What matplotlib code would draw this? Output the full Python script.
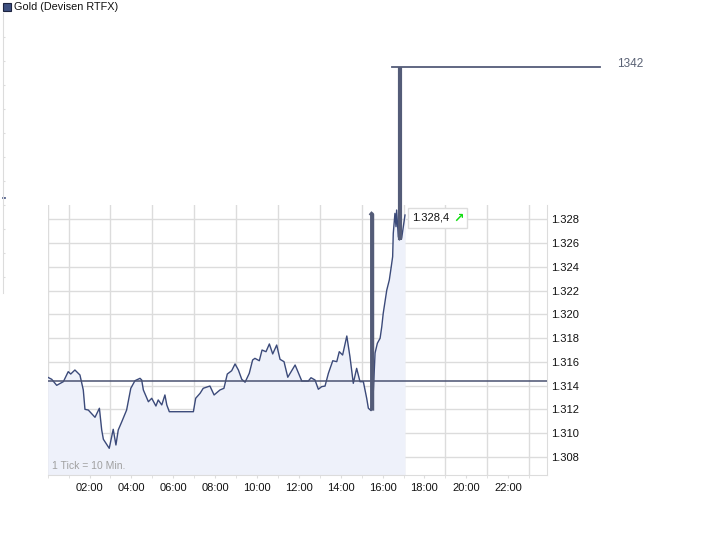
import numpy as np
import matplotlib
matplotlib.use("Agg")
import matplotlib.pyplot as plt
from matplotlib.patches import Rectangle
from matplotlib.offsetbox import TextArea, HPacker, AnnotationBbox

plt.rcParams['font.family'] = ['Liberation Sans', 'DejaVu Sans']

# intraday gold quote, hours since midnight
times = [0.00, 0.19, 0.43, 0.75, 0.98, 1.10, 1.30, 1.54, 1.70, 1.78, 1.94, 2.26, 2.47, 2.58,
         2.66, 2.94, 3.13, 3.26, 3.37, 3.54, 3.77, 3.97, 4.17, 4.41, 4.49, 4.57, 4.81, 4.97,
         5.17, 5.28, 5.45, 5.60, 5.69, 5.81, 6.96, 7.07, 7.28, 7.43, 7.75, 7.95, 8.23, 8.42,
         8.58, 8.79, 8.95, 9.11, 9.27, 9.43, 9.63, 9.79, 9.90, 10.11, 10.24, 10.43, 10.59,
         10.75, 10.94, 11.10, 11.29, 11.47, 11.82, 12.14, 12.45, 12.58, 12.77, 12.93, 13.09,
         13.25, 13.41, 13.62, 13.81, 13.93, 14.09, 14.29, 14.44, 14.60, 14.76, 14.92, 15.08,
         15.24, 15.32, 15.45, 15.56, 15.64, 15.75, 15.88, 15.96, 16.03, 16.20, 16.32, 16.39,
         16.48, 16.51, 16.59, 16.64, 16.67, 16.75, 16.80, 16.91, 16.99, 17.07]
prices = [1.31471, 1.31454, 1.31403, 1.31434, 1.31518, 1.31498, 1.31532, 1.31490, 1.31364,
          1.31201, 1.31195, 1.31134, 1.31210, 1.31027, 1.30949, 1.30873, 1.31033, 1.30901,
          1.31027, 1.31097, 1.31195, 1.31378, 1.31442, 1.31462, 1.31448, 1.31364, 1.31265,
          1.31294, 1.31229, 1.31280, 1.31238, 1.31322, 1.31238, 1.31181, 1.31181, 1.31294,
          1.31336, 1.31378, 1.31397, 1.31322, 1.31364, 1.31378, 1.31498, 1.31526, 1.31583,
          1.31532, 1.31454, 1.31429, 1.31504, 1.31616, 1.31630, 1.31610, 1.31700, 1.31686,
          1.31751, 1.31667, 1.31742, 1.31622, 1.31602, 1.31471, 1.31574, 1.31439, 1.31439,
          1.31467, 1.31448, 1.31370, 1.31392, 1.31397, 1.31504, 1.31610, 1.31602, 1.31686,
          1.31658, 1.31818, 1.31644, 1.31420, 1.31546, 1.31434, 1.31434, 1.31294, 1.31210,
          1.31190, 1.31364, 1.31675, 1.31757, 1.31799, 1.31896, 1.32009, 1.32205, 1.32289,
          1.32373, 1.32485, 1.32682, 1.32850, 1.32738, 1.32878, 1.32654, 1.32626, 1.32640,
          1.32738, 1.32836]

prev_close = 1.31442
last_label = "1.328,4"

# second (thick) series drawn over the quote
spike1_t = [15.40, 15.50, 15.50]
spike1_v = [1.32855, 1.32840, 1.31190]
spike2_t = [16.83, 16.83]
spike2_v = [1.32626, 1.34080]
level_t = [16.45, 26.40]
level_v = 1.34080
level_label = "1342"

yticks = [1.308, 1.310, 1.312, 1.314, 1.316, 1.318, 1.320, 1.322, 1.324, 1.326, 1.328]
xticks = [2, 4, 6, 8, 10, 12, 14, 16, 18, 20, 22]
xlabels = ["%02d:00" % h for h in xticks]

W, H = 726, 557
fig = plt.figure(figsize=(W / 100, H / 100), dpi=100)
ax = fig.add_axes([47.7 / W, (H - 475) / H, 499 / W, 270 / H])

line_c = '#3b4a7a'
grid_c = '#dcdcdc'

ax.fill_between(times, prices, 1.30, color='#eef1fa', lw=0, zorder=1)
ax.plot(times, prices, color=line_c, lw=1.0, zorder=3)
ax.axhline(prev_close, color='#4a5272', lw=1.1, zorder=4)

ax.plot(spike1_t, spike1_v, color='#545c78', lw=3, solid_capstyle='butt', zorder=5)
ax.plot(spike2_t, spike2_v, color='#545c78', lw=3, solid_capstyle='butt', zorder=5,
        clip_on=False)
ax.plot(level_t, [level_v, level_v], color='#545c78', lw=1.3, zorder=5, clip_on=False)
ax.annotate(level_label, xy=(level_t[-1], level_v), xytext=(12, 2),
            textcoords='offset points', ha='left', va='center', fontsize=8.5,
            color='#5a6275', annotation_clip=False)

ax.set_xlim(0, 23.84)
ax.set_ylim(1.306485, 1.329203)

ax.set_xticks(xticks)
ax.set_xticklabels(xlabels)
ax.set_xticks(np.arange(0, 24), minor=True)
ax.xaxis.grid(True, which='minor', color=grid_c, lw=1)
ax.set_yticks(yticks)
ax.set_yticklabels(["%.3f" % v for v in yticks])
ax.yaxis.grid(True, color=grid_c, lw=1)
ax.set_axisbelow(True)
ax.yaxis.tick_right()
ax.tick_params(axis='y', length=0, pad=3, labelsize=8, labelcolor='#111111')
ax.tick_params(axis='x', which='major', length=2, color=grid_c, pad=4, labelsize=8,
               labelcolor='#111111')
ax.tick_params(axis='x', which='minor', length=2, color=grid_c)
for s in ['top', 'left']:
    ax.spines[s].set_visible(False)
ax.spines['right'].set_color(grid_c)
ax.spines['bottom'].set_color(grid_c)

ax.text(0.008, 0.015, "1 Tick = 10 Min.", transform=ax.transAxes, fontsize=7.5,
        color='#a0a0a0', ha='left', va='bottom')

# last price box with green arrow
box = HPacker(children=[TextArea(last_label, textprops=dict(fontsize=8, color='#111111')),
                        TextArea("\u2197", textprops=dict(fontsize=9, color='#11dd11',
                                                          family='DejaVu Sans',
                                                          weight='bold'))],
              align='center', pad=0, sep=3)
ab = AnnotationBbox(box, (times[-1], prices[-1]), xybox=(5, -2), xycoords='data',
                    boxcoords='offset points', box_alignment=(0, 0.5), frameon=True,
                    pad=0.25, zorder=6)
ab.patch.set_edgecolor('#dddddd')
ab.patch.set_facecolor('white')
ab.patch.set_boxstyle('square', pad=0.25)
ax.add_artist(ab)

# faint secondary scale on the far left
axl = fig.add_axes([2.7 / W, (H - 293) / H, 5 / W, 280 / H])
axl.set_xlim(0, 1)
axl.set_ylim(0, 280)
for s in ['top', 'right', 'bottom']:
    axl.spines[s].set_visible(False)
axl.spines['left'].set_color(grid_c)
axl.set_xticks([])
axl.set_yticks(np.arange(16, 280, 24))
axl.set_yticklabels([])
axl.tick_params(axis='y', direction='in', length=1.5, color=grid_c)
axl.patch.set_visible(False)
axl.plot([0, 0.5], [95, 95], color='#3b4a7a', lw=1.2, clip_on=False)

# legend
fig.patches.append(Rectangle((3 / W, 1 - 11 / H), 8 / W, 8 / H, transform=fig.transFigure,
                             facecolor='#3e5080', edgecolor='#1e2440', lw=0.8))
fig.text(14 / W, 1 - 7.5 / H, "Gold (Devisen RTFX)", fontsize=7.8, color='#111111',
         ha='left', va='center')

fig.savefig('out.png', dpi=100)
